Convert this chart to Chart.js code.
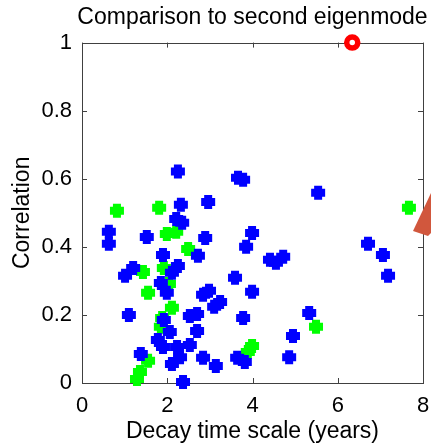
<!DOCTYPE html>
<html lang="en">
<head>
  <meta charset="UTF-8">
  <title>Comparison to second eigenmode</title>
  <script src="https://cdn.jsdelivr.net/npm/chart.js"></script>
  <style>
    * {
      margin: 0;
      padding: 0;
      box-sizing: border-box;
    }
    body {
      background-color: #ffffff;
      width: 431px;
      height: 445px;
      overflow: hidden;
    }
  </style>
</head>
<body>
  <canvas id="eigenChart" width="431" height="445"></canvas>

  <script>
    // blue markers: decay time scale (years) and correlation
    const blueX = [2.25, 3.66, 3.78, 5.54, 2.96, 2.32, 2.21, 2.35, 0.63, 0.63, 1.52, 2.89, 3.99, 3.85,
      2.72, 1.90, 4.41, 4.72, 4.55, 6.71, 7.06, 7.18, 1.20, 1.01, 2.25, 2.11, 1.85, 1.99, 3.59, 2.84,
      2.98, 3.24, 3.10, 3.99, 1.10, 2.53, 2.70, 3.78, 1.92, 2.06, 2.70, 1.78, 1.90, 2.23, 2.53, 1.38,
      2.30, 2.11, 2.84, 3.14, 3.64, 3.82, 2.37, 5.33, 4.95, 4.86];
    const blueY = [0.621, 0.603, 0.597, 0.559, 0.532, 0.524, 0.482, 0.471, 0.444, 0.409, 0.429, 0.426, 0.441, 0.400,
      0.374, 0.376, 0.362, 0.371, 0.353, 0.409, 0.376, 0.315, 0.338, 0.315, 0.344, 0.324, 0.294, 0.265, 0.309, 0.259,
      0.271, 0.238, 0.224, 0.268, 0.200, 0.197, 0.203, 0.191, 0.185, 0.150, 0.153, 0.126, 0.106, 0.106, 0.112, 0.085,
      0.076, 0.056, 0.074, 0.050, 0.074, 0.062, 0.003, 0.206, 0.138, 0.076];

    // green markers
    const greenX = [0.82, 1.81, 1.99, 2.21, 2.49, 7.67, 1.92, 1.43, 1.55, 2.11, 1.85, 1.55, 1.36, 1.29,
      3.99, 3.89, 5.49, 2.04, 1.88];
    const greenY = [0.506, 0.515, 0.438, 0.444, 0.394, 0.515, 0.338, 0.326, 0.265, 0.221, 0.165, 0.065, 0.032, 0.012,
      0.109, 0.091, 0.165, 0.291, 0.191];

    // red circle
    const redX = [6.34];
    const redY = [1.0];

    const xTicks = [0, 2, 4, 6, 8];
    const yTicks = [0, 0.2, 0.4, 0.6, 0.8, 1];

    const fontFamily = "'Liberation Sans', Arial, Helvetica, sans-serif";
    const axisColor = '#404040';

    function toPoints(xs, ys) {
      return xs.map((x, i) => ({ x: x, y: ys[i] }));
    }

    // box round the plot and inward tick marks, like the original
    const boxPlugin = {
      id: 'boxPlugin',
      afterLayout(chart) {
        // centre the title over the plot area, not the whole canvas
        const tb = chart.titleBlock;
        if (tb) {
          const mid = (chart.chartArea.left + chart.chartArea.right) / 2;
          tb.left = mid - 185;
          tb.right = mid + 185;
          tb.width = tb.right - tb.left;
        }
      },
      beforeDatasetsDraw(chart) {
        const ctx = chart.ctx;
        const area = chart.chartArea;
        const xs = chart.scales.x;
        const ys = chart.scales.y;
        ctx.save();
        ctx.strokeStyle = axisColor;
        ctx.lineWidth = 1;
        ctx.strokeRect(Math.round(area.left) + 0.5, Math.round(area.top) + 0.5,
          Math.round(area.right - area.left), Math.round(area.bottom - area.top));
        ctx.beginPath();
        xTicks.forEach(t => {
          const px = Math.round(xs.getPixelForValue(t)) + 0.5;
          ctx.moveTo(px, area.bottom);
          ctx.lineTo(px, area.bottom - 5);
          ctx.moveTo(px, area.top);
          ctx.lineTo(px, area.top + 5);
        });
        yTicks.forEach(t => {
          const py = Math.round(ys.getPixelForValue(t)) + 0.5;
          ctx.moveTo(area.left, py);
          ctx.lineTo(area.left + 5, py);
          ctx.moveTo(area.right, py);
          ctx.lineTo(area.right - 5, py);
        });
        ctx.stroke();
        ctx.restore();
      },
      afterDraw(chart) {
        // tail of the red arrow cut by the right edge
        const ctx = chart.ctx;
        ctx.save();
        ctx.fillStyle = '#d1573d';
        ctx.beginPath();
        ctx.moveTo(413, 231);
        ctx.lineTo(431, 193);
        ctx.lineTo(431, 233);
        ctx.lineTo(428, 236);
        ctx.closePath();
        ctx.fill();
        ctx.restore();
      }
    };

    const config = {
      type: 'scatter',
      data: {
        datasets: [
          {
            label: 'red',
            data: toPoints(redX, redY),
            pointStyle: 'circle',
            pointRadius: 5.5,
            borderWidth: 5.5,
            borderColor: '#ff0000',
            backgroundColor: '#ffffff',
            clip: false
          },
          {
            label: 'blue',
            data: toPoints(blueX, blueY),
            pointStyle: 'cross',
            pointRadius: 7,
            borderWidth: 8,
            borderColor: '#0000ff',
            backgroundColor: '#0000ff',
            clip: false
          },
          {
            label: 'green',
            data: toPoints(greenX, greenY),
            pointStyle: 'cross',
            pointRadius: 7,
            borderWidth: 8,
            borderColor: '#00ff00',
            backgroundColor: '#00ff00',
            clip: false
          }
        ]
      },
      options: {
        responsive: false,
        animation: false,
        events: [],
        layout: {
          autoPadding: false,
          padding: { left: 0, right: 8, top: 0, bottom: 0 }
        },
        plugins: {
          legend: { display: false },
          tooltip: { enabled: false },
          title: {
            display: true,
            text: 'Comparison to second eigenmode',
            color: '#000000',
            font: { family: fontFamily, size: 23, weight: 'normal' },
            padding: { top: 4, bottom: 11 }
          }
        },
        scales: {
          x: {
            type: 'linear',
            min: 0,
            max: 8,
            afterBuildTicks: scale => { scale.ticks = xTicks.map(v => ({ value: v })); },
            afterFit: scale => {
              scale.height = 62;
              scale.paddingLeft = 0;
              scale.paddingRight = 0;
            },
            grid: { display: false, drawTicks: false },
            border: { display: false },
            ticks: {
              color: '#000000',
              padding: 10,
              font: { family: fontFamily, size: 22 }
            },
            title: {
              display: true,
              text: 'Decay time scale (years)',
              color: '#000000',
              font: { family: fontFamily, size: 23 },
              padding: { top: 0, bottom: 0 }
            }
          },
          y: {
            type: 'linear',
            min: 0,
            max: 1,
            afterBuildTicks: scale => { scale.ticks = yTicks.map(v => ({ value: v })); },
            afterFit: scale => {
              scale.width = 82;
              scale.paddingTop = 0;
              scale.paddingBottom = 0;
            },
            grid: { display: false, drawTicks: false },
            border: { display: false },
            ticks: {
              color: '#000000',
              padding: 10,
              font: { family: fontFamily, size: 22 },
              callback: v => String(v)
            },
            title: {
              display: true,
              text: 'Correlation',
              color: '#000000',
              font: { family: fontFamily, size: 23 },
              padding: { top: 9, bottom: 0 }
            }
          }
        }
      },
      plugins: [boxPlugin]
    };

    new Chart(document.getElementById('eigenChart').getContext('2d'), config);
  </script>
</body>
</html>
